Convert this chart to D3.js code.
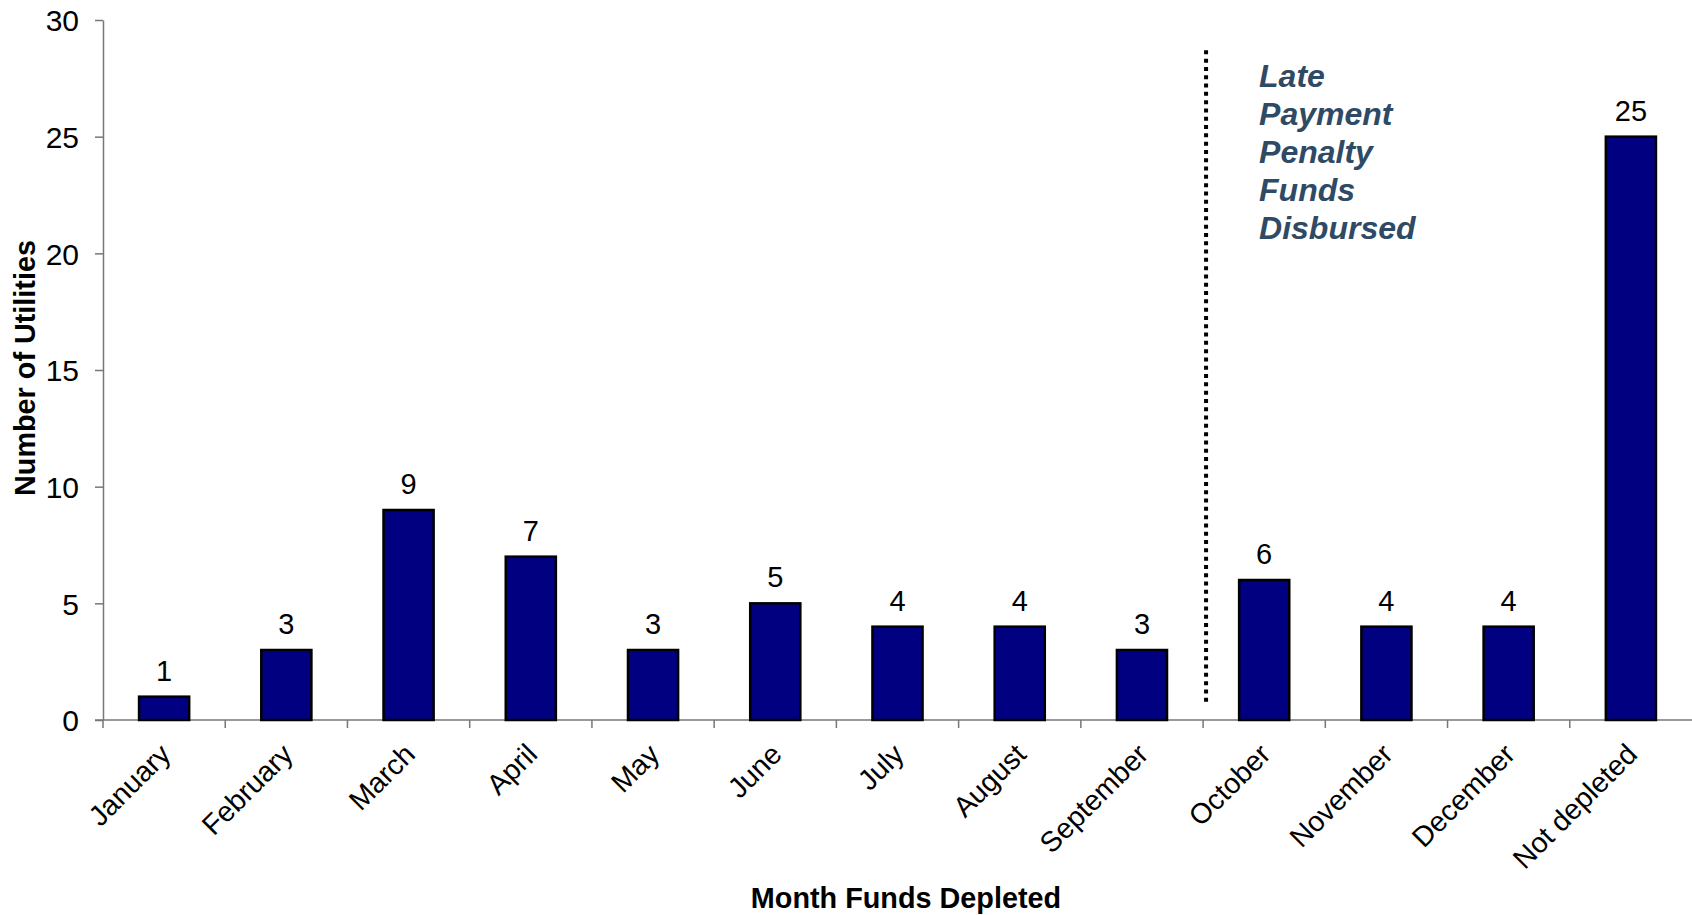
<!DOCTYPE html>
<meta charset="utf-8">
<style>
body {
  margin: 0;
  background: #fff;
}
svg {
  display: block;
  font-family: "Liberation Sans", Arial, sans-serif;
}
.axis path, .axis line {
  stroke: #777;
  stroke-width: 1.5;
}
.axis--y text {
  font-size: 30px;
  fill: #000;
}
.axis--x text {
  font-size: 28.5px;
  fill: #000;
}
.bar {
  fill: #000080;
  stroke: #000;
  stroke-width: 2.5;
}
.label {
  font-size: 29px;
  text-anchor: middle;
}
.title {
  font-size: 28.8px;
  font-weight: bold;
  text-anchor: middle;
}
.note {
  font-size: 32px;
  font-weight: bold;
  font-style: italic;
  fill: #2e4a64;
}
</style>
<body>
<svg width="1692" height="915"></svg>
<script src="https://cdnjs.cloudflare.com/ajax/libs/d3/7.8.5/d3.min.js"></script>
<script>
var months = ["January", "February", "March", "April", "May", "June", "July",
              "August", "September", "October", "November", "December", "Not depleted"];
var utilities = [1, 3, 9, 7, 3, 5, 4, 4, 3, 6, 4, 4, 25];
var yTicks = [0, 5, 10, 15, 20, 25, 30];
var noteLines = ["Late", "Payment", "Penalty", "Funds", "Disbursed"];
// divider sits between September and October, from 0.66 up to 28.7
var dividerRange = [0.66, 28.7];

var data = months.map(function(m, i) { return {month: m, value: utilities[i]}; });

var svg = d3.select("svg"),
    margin = {top: 20, right: 0, bottom: 195, left: 103},
    width = +svg.attr("width") - margin.left - margin.right,
    height = +svg.attr("height") - margin.top - margin.bottom;

var x = d3.scaleBand().domain(months).range([0, width]).padding(0),
    y = d3.scaleLinear().domain([0, 30]).range([height, 0]);

var g = svg.append("g")
    .attr("transform", "translate(" + margin.left + "," + margin.top + ")");

// y axis
g.append("g")
    .attr("class", "axis axis--y")
    .call(d3.axisLeft(y).tickValues(yTicks).tickSize(8).tickPadding(16).tickSizeOuter(0))
  .selectAll("text")
    .attr("dy", "0.36em");

// x axis: ticks on the band boundaries
var xAxis = g.append("g")
    .attr("class", "axis axis--x")
    .attr("transform", "translate(0," + height + ")");

xAxis.append("line")
    .attr("x1", -8).attr("x2", width);

xAxis.selectAll(".tick")
    .data(months)
  .enter().append("line")
    .attr("class", "tick")
    .attr("x1", function(d) { return x(d); })
    .attr("x2", function(d) { return x(d); })
    .attr("y1", 0).attr("y2", 8);

xAxis.selectAll("text")
    .data(months)
  .enter().append("text")
    .attr("transform", function(d) {
      return "translate(" + (x(d) + x.bandwidth() / 2 - 6) + ",22) rotate(-45)";
    })
    .attr("text-anchor", "end")
    .attr("dy", "0.7em")
    .text(function(d) { return d; });

// bars
var barW = x.bandwidth() * 0.41;
g.selectAll(".bar")
    .data(data)
  .enter().append("rect")
    .attr("class", "bar")
    .attr("x", function(d) { return x(d.month) + (x.bandwidth() - barW) / 2; })
    .attr("y", function(d) { return y(d.value); })
    .attr("width", barW)
    .attr("height", function(d) { return height - y(d.value); });

g.selectAll(".label")
    .data(data)
  .enter().append("text")
    .attr("class", "label")
    .attr("x", function(d) { return x(d.month) + x.bandwidth() / 2; })
    .attr("y", function(d) { return y(d.value) - 16; })
    .text(function(d) { return d.value; });

// dotted divider
var divX = x("October") + 3;
g.append("line")
    .attr("x1", divX).attr("x2", divX)
    .attr("y1", y(dividerRange[1])).attr("y2", y(dividerRange[0]))
    .style("stroke", "#000")
    .style("stroke-width", 4)
    .style("stroke-dasharray", "4,4.3");

g.append("text")
    .attr("class", "note")
    .selectAll("tspan")
    .data(noteLines)
  .enter().append("tspan")
    .attr("x", divX + 53)
    .attr("y", function(d, i) { return 67 + i * 38.1; })
    .text(function(d) { return d; });

// axis titles
svg.append("text")
    .attr("class", "title")
    .attr("transform", "translate(35," + (margin.top + height / 2 - 2) + ") rotate(-90)")
    .text("Number of Utilities");

svg.append("text")
    .attr("class", "title")
    .attr("x", 906)
    .attr("y", 908)
    .text("Month Funds Depleted");
</script>
</body>
